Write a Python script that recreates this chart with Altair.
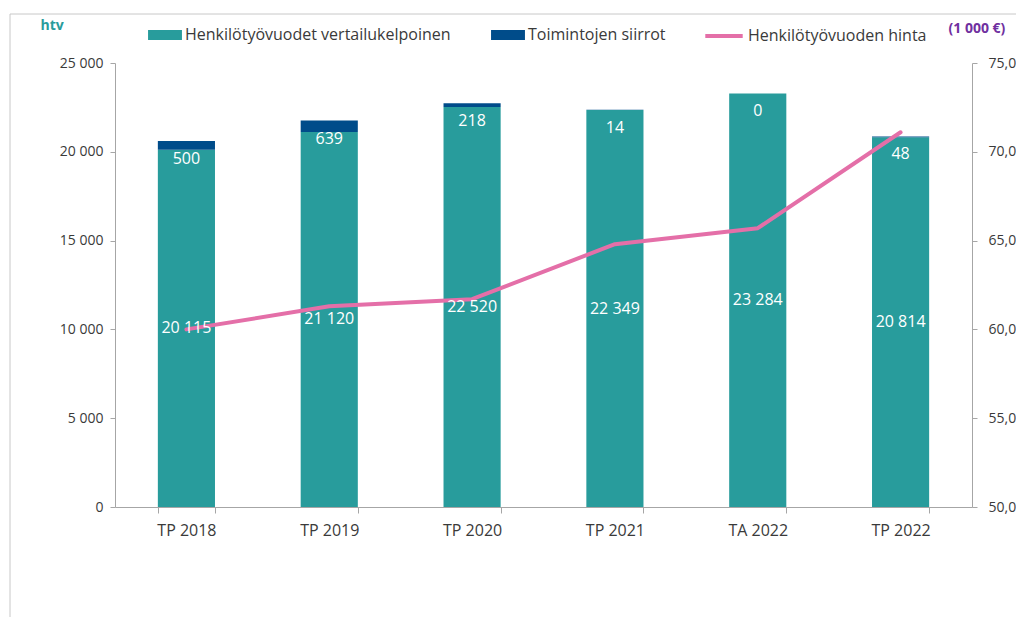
import altair as alt
import pandas as pd

years = ["TP 2018", "TP 2019", "TP 2020", "TP 2021", "TA 2022", "TP 2022"]
base = [20115, 21120, 22520, 22349, 23284, 20814]
transfers = [500, 639, 218, 14, 0, 48]
price = [60.0, 61.3, 61.7, 64.8, 65.7, 71.1]

S_BASE = "Henkilötyövuodet vertailukelpoinen"
S_TR = "Toimintojen siirrot"
S_PRICE = "Henkilötyövuoden hinta"

TEAL = "#289C9C"
BLUE = "#004C8A"
PINK = "#E46FA8"
PURPLE = "#7030A0"
GRID = "#A6A6A6"
TXT = "#3A3A3A"
FONT = "Open Sans"

rows = []
for yr, b, t in zip(years, base, transfers):
    rows.append({"year": yr, "series": S_BASE, "start": 0, "end": b, "ly": b / 2, "label": b})
    rows.append({"year": yr, "series": S_TR, "start": b, "end": b + t, "ly": b + t, "label": t})
bars_df = pd.DataFrame(rows)
line_df = pd.DataFrame({"year": years, "price": price, "series": S_PRICE})

W, H = 857, 444

xenc = alt.X(
    "year:N", sort=years,
    scale=alt.Scale(paddingInner=0.6, paddingOuter=0.3),
    axis=alt.Axis(title=None, labelAngle=0, tickBand="extent", tickSize=6,
                  labelPadding=9, labelFontSize=16, labelColor=TXT, labelFont=FONT,
                  domainColor=GRID, tickColor=GRID),
)

left_axis = alt.Axis(
    title="htv", titleAngle=0, titleX=-75, titleY=-38, titleAlign="left",
    titleBaseline="middle", titleColor=TEAL, titleFontSize=14, titleFontWeight="bold",
    titleFont=FONT,
    values=[0, 5000, 10000, 15000, 20000, 25000], format=",.0f",
    labelFontSize=14, labelColor=TXT, labelFont=FONT, labelPadding=7,
    tickSize=5, grid=False, domainColor=GRID, tickColor=GRID,
)


def yscale():
    return alt.Scale(domain=[0, 25000], nice=False)


bars = alt.Chart(bars_df).mark_bar().encode(
    x=xenc,
    y=alt.Y("start:Q", scale=yscale(), axis=left_axis),
    y2="end:Q",
    color=alt.Color(
        "series:N",
        scale=alt.Scale(domain=[S_BASE, S_TR], range=[TEAL, BLUE]),
        legend=alt.Legend(
            title=None, orient="none", direction="horizontal", legendX=33, legendY=-45,
            symbolType="M-1,-0.3L1,-0.3L1,0.3L-1,0.3Z", symbolSize=1150,
            symbolStrokeWidth=0, labelFontSize=16, labelColor=TXT, labelFont=FONT,
            labelOffset=3, columnPadding=40, labelLimit=500,
        ),
    ),
)

labels_df = bars_df.copy()

base_labels = alt.Chart(labels_df).transform_filter(
    alt.datum.series == S_BASE
).mark_text(color="white", fontSize=16, font=FONT, baseline="middle").encode(
    x=xenc,
    y=alt.Y("ly:Q", scale=yscale(), axis=None),
    text=alt.Text("label:Q", format=",.0f"),
)

tr_labels = alt.Chart(labels_df).transform_filter(
    alt.datum.series == S_TR
).mark_text(color="white", fontSize=16, font=FONT, baseline="middle", dy=18).encode(
    x=xenc,
    y=alt.Y("ly:Q", scale=yscale(), axis=None),
    text=alt.Text("label:Q", format=",.0f"),
)

border_df = pd.DataFrame({"a": [0]})
top_border = alt.Chart(border_df).mark_rule(color="#C8C8C8", strokeWidth=1).encode(
    x=alt.value(-105), x2=alt.value(W + 44), y=alt.value(-49)
)
left_border = alt.Chart(border_df).mark_rule(color="#C8C8C8", strokeWidth=1).encode(
    x=alt.value(-105), y=alt.value(-49), y2=alt.value(H + 110)
)

line = alt.Chart(line_df).mark_line(strokeWidth=4, strokeCap="round", strokeJoin="round").encode(
    x=xenc,
    y=alt.Y(
        "price:Q", scale=alt.Scale(domain=[50, 75], nice=False, zero=False),
        axis=alt.Axis(
            orient="right", title="(1 000 €)", titleAngle=0, titleX=-24, titleY=-35,
            titleAlign="left", titleBaseline="middle", titleColor=PURPLE,
            titleFontSize=14, titleFontWeight="bold", titleFont=FONT,
            values=[50, 55, 60, 65, 70, 75], format=".1f",
            labelFontSize=14, labelColor=TXT, labelFont=FONT, labelPadding=11,
            tickSize=5, grid=False, domainColor=GRID, tickColor=GRID,
        ),
    ),
    stroke=alt.Stroke(
        "series:N", scale=alt.Scale(domain=[S_PRICE], range=[PINK]),
        legend=alt.Legend(
            title=None, orient="none", legendX=588, legendY=-48,
            symbolType="stroke", symbolSize=1400, symbolStrokeWidth=4,
            labelFontSize=16, labelColor=TXT, labelFont=FONT, labelOffset=3,
            labelLimit=500,
        ),
    ),
)

left_layer = alt.layer(bars, top_border, left_border)
chart = alt.layer(left_layer, line, base_labels, tr_labels).resolve_scale(
    y="independent", color="independent", stroke="independent"
).properties(
    width=W, height=H,
    autosize=alt.AutoSizeParams(type="none"),
    padding={"left": 107, "top": 55, "right": 44, "bottom": 110},
).configure(
    locale={"number": {"decimal": ",", "thousands": " ", "grouping": [3], "currency": ["", " €"]}}
).configure_view(stroke=None)

chart.save("out.html", embed_options={"renderer": "svg", "actions": False})
